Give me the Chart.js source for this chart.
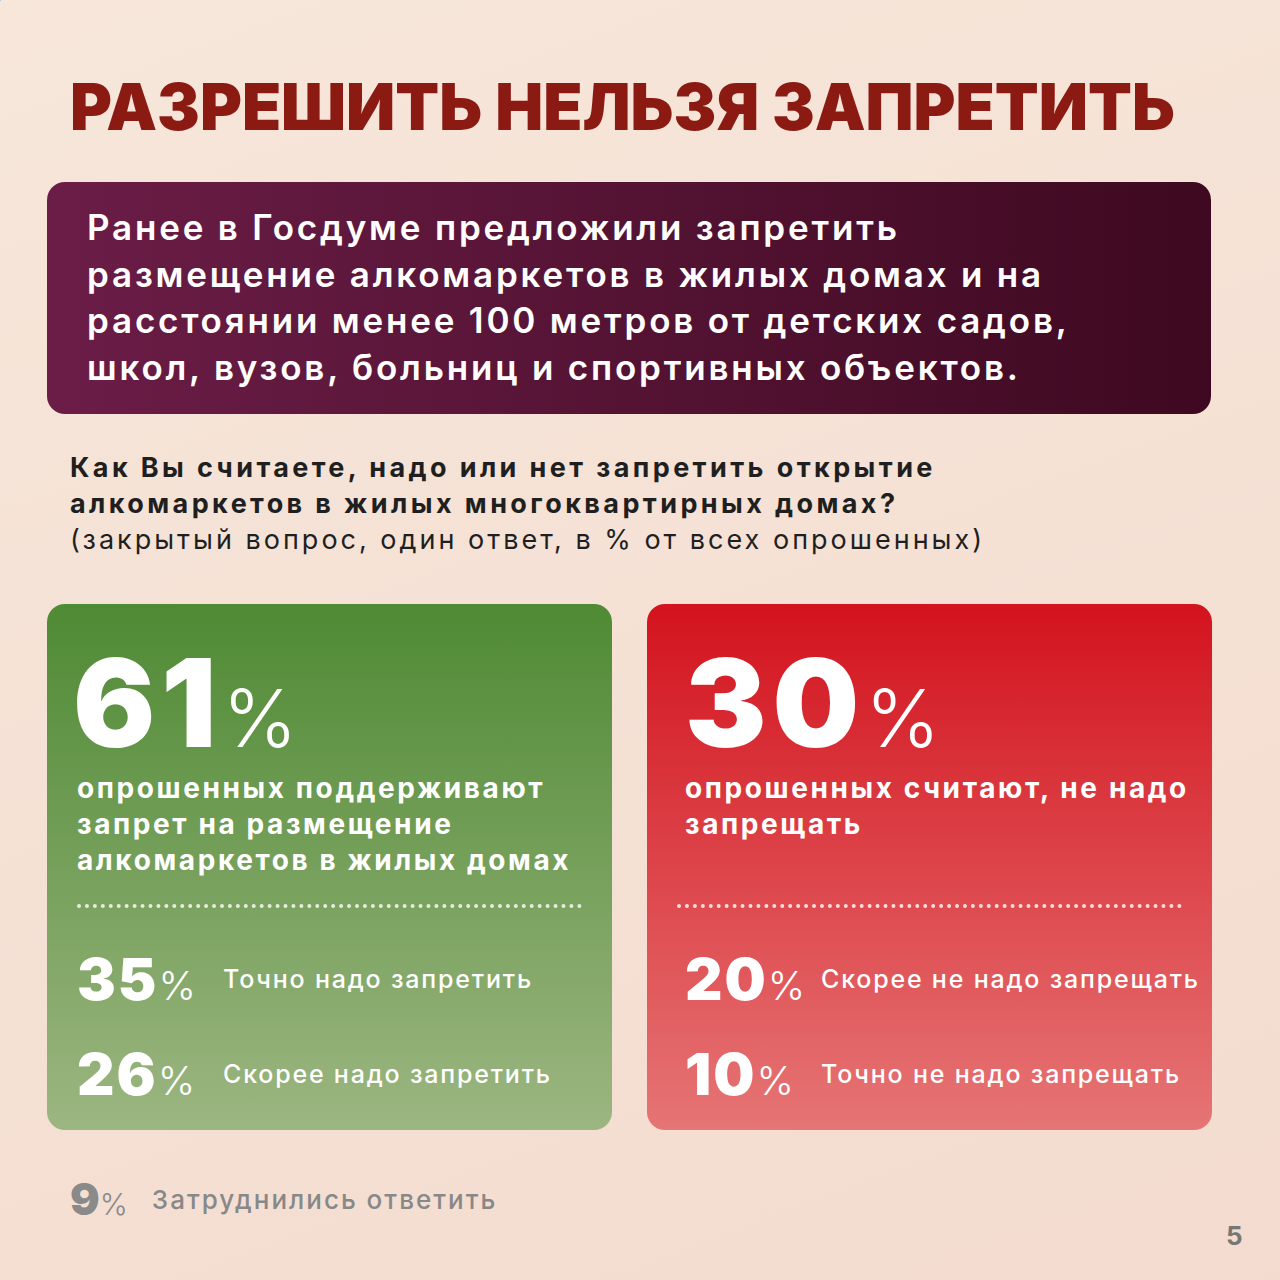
<!DOCTYPE html>
<html><head><meta charset="utf-8">
<script src="https://cdn.jsdelivr.net/npm/chart.js@4/dist/chart.umd.min.js"></script>
<style>
html,body{margin:0;padding:0;}
body{width:1280px;height:1280px;position:relative;overflow:hidden;font-family:Inter,"Open Sans",sans-serif;background:linear-gradient(160deg,#f7e6da 0%,#f3dccf 100%);}
.abs{position:absolute;}
#title{left:70px;top:68px;font-size:64px;font-weight:900;color:#8b1a13;letter-spacing:0px;white-space:nowrap;}
#box{left:47px;top:182px;width:1164px;height:232px;border-radius:18px;background:linear-gradient(90deg,#6b1d47,#3e0920);}
#boxtext{left:40px;top:22px;color:#fff;font-size:35px;font-weight:600;line-height:46.5px;letter-spacing:2.8px;white-space:nowrap;}
#q{left:70px;top:450px;color:#1f1f1f;font-size:27px;line-height:36px;white-space:nowrap;}
#q b{letter-spacing:3.4px;}
.card{top:604px;width:565px;height:526px;border-radius:18px;color:#fff;}
#green{left:47px;background:linear-gradient(180deg,#4f8a34,#9cb681);}
#red{left:647px;background:linear-gradient(180deg,#d3131e,#e67575);}
.big{left:26px;top:25px;font-size:122px;font-weight:900;white-space:nowrap;letter-spacing:6px;}
.pc{font-weight:300;font-size:80px;letter-spacing:0;}
.desc{left:30px;top:166px;font-size:28px;font-weight:700;line-height:36px;letter-spacing:2.6px;white-space:nowrap;}
#red .desc,#red .big,#red .row{left:38px;}
.dots{left:30px;top:300px;width:505px;border-top:4px dotted rgba(255,255,255,0.8);}
.row{left:30px;height:60px;display:flex;align-items:center;white-space:nowrap;}
.rv{font-size:58px;font-weight:900;width:146px;letter-spacing:2px;}
.rv span{font-weight:300;font-size:40px;letter-spacing:0;}
.rl{font-size:25px;font-weight:500;letter-spacing:1.8px;}
#red .rl{margin-left:-10px;}
#foot{left:70px;top:1172px;display:flex;align-items:center;color:#888;}
#pg{left:1226px;top:1220px;font-size:26px;font-weight:700;color:#777;}
</style></head><body>
<canvas id="c" width="1" height="1" style="position:absolute;left:0;top:0;width:1px;height:1px;"></canvas>
<div id="root"></div>
<script>
const titleText = "РАЗРЕШИТЬ НЕЛЬЗЯ ЗАПРЕТИТЬ";
const introLines = ["Ранее в Госдуме предложили запретить","размещение алкомаркетов в жилых домах и на","расстоянии менее 100 метров от детских садов,","школ, вузов, больниц и спортивных объектов."];
const questionBold = ["Как Вы считаете, надо или нет запретить открытие","алкомаркетов в жилых многоквартирных домах?"];
const questionNote = "(закрытый вопрос, один ответ, в % от всех опрошенных)";
const groupValues = [61, 30];
const groupLabels = [["опрошенных поддерживают","запрет на размещение","алкомаркетов в жилых домах"],["опрошенных считают, не надо","запрещать"]];
const subLabels = [["Точно надо запретить","Скорее надо запретить"],["Скорее не надо запрещать","Точно не надо запрещать"]];
const subValues = [[35,26],[20,10]];
const otherValue = 9;
const otherLabel = "Затруднились ответить";

let h = `<div class="abs" id="title">${titleText}</div>
<div class="abs" id="box"><div class="abs" id="boxtext">${introLines.join('<br>')}</div></div>
<div class="abs" id="q"><b>${questionBold.join('<br>')}</b><br><span style="font-weight:400;letter-spacing:3px">${questionNote}</span></div>`;
['green','red'].forEach((id,i)=>{
  h += `<div class="abs card" id="${id}">
  <div class="abs big">${groupValues[i]}<span class="pc">%</span></div>
  <div class="abs desc">${groupLabels[i].join('<br>')}</div>
  <div class="abs dots"></div>`;
  subValues[i].forEach((v,j)=>{
    h += `<div class="abs row" style="top:${345+j*95}px"><div class="rv">${v}<span>%</span></div><div class="rl">${subLabels[i][j]}</div></div>`;
  });
  h += `</div>`;
});
h += `<div class="abs" id="foot"><span style="font-size:44px;font-weight:900;color:#8a8a8a">${otherValue}<span style="font-weight:300;font-size:30px">%</span></span><span style="font-size:26px;margin-left:24px;font-weight:500;letter-spacing:2px">${otherLabel}</span></div>
<div class="abs" id="pg">5</div>`;
document.getElementById('root').innerHTML = h;
new Chart(document.getElementById('c'),{type:'bar',data:{labels:[''],datasets:[{data:[otherValue]}]},options:{responsive:false,animation:false,plugins:{legend:{display:false}},scales:{x:{display:false},y:{display:false}}}});
</script>
</body></html>
